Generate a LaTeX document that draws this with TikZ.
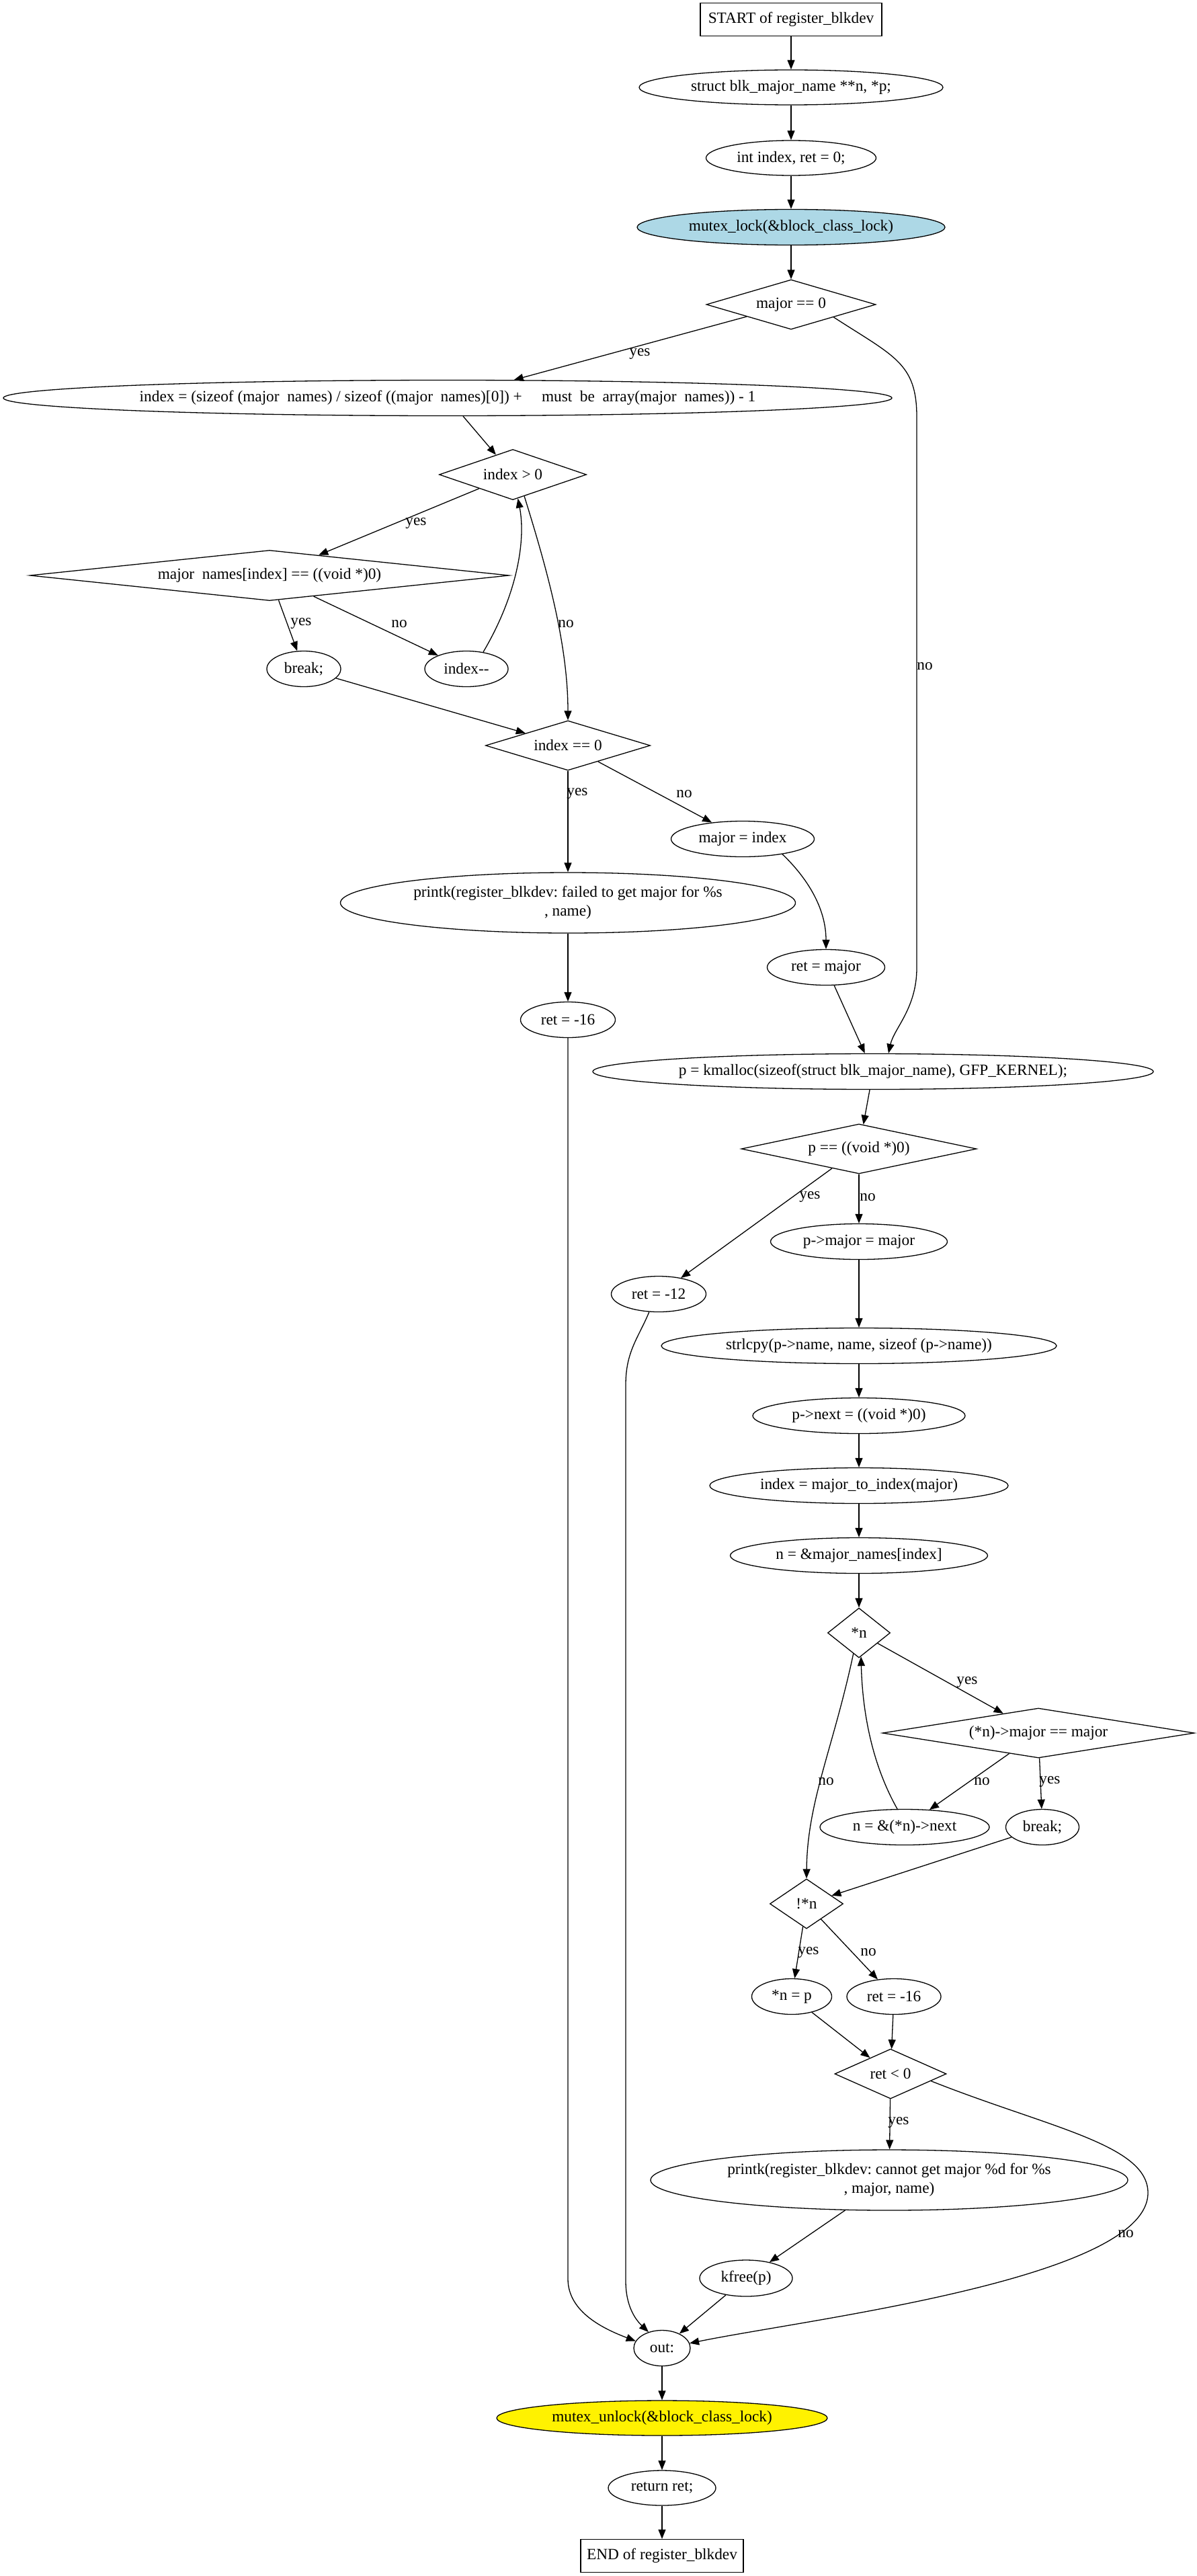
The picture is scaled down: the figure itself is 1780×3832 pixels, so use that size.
\documentclass[tikz,border=0pt]{standalone}
\usepackage{fontspec}
\setmainfont{Liberation Serif}
\usetikzlibrary{shapes.geometric,arrows.meta}
\frenchspacing
\begin{document}
\begin{tikzpicture}[x=1pt,y=-1pt,
  every node/.style={font=\fontsize{23.3}{28}\selectfont},
  base/.style={draw,line width=1.3pt,inner sep=0pt,align=center},
  ell/.style={base,ellipse},
  box/.style={base,rectangle},
  dia/.style={base,diamond},
  ws/.style 2 args={minimum width=#1pt,minimum height=#2pt},
  ds/.style n args={3}{minimum width=#1pt,minimum height=#2pt,shape aspect=#3},
  arr/.style={line width=1.3pt,-{Triangle[length=14pt,width=11pt]}},
  lab/.style={inner sep=0pt}
]
\fill[white] (0,0) rectangle (1780,3832);
\useasboundingbox (0,0) rectangle (1780,3832);

% nodes
\node[box,ws={270}{49}] (nstart) at (1177,29) {START of register\_blkdev};
\node[ell,ws={452}{52}] (struct) at (1177,130) {struct blk\_major\_name **n, *p;};
\node[ell,ws={253}{52}] (int) at (1177,235) {int index, ret = 0;};
\node[ell,ws={458}{53},fill={rgb,255:red,173;green,216;blue,230}] (ml) at (1177,338) {mutex\_lock(\&block\_class\_lock)};
\node[dia,ds={252}{74}{3.4}] (mz) at (1177,453) {major == 0};
\node[ell,ws={1322}{53}] (ie) at (666,592) {index = (sizeof (major\phantom{\_}names) / sizeof ((major\phantom{\_}names)[0]) + \phantom{\_\_}must\phantom{\_}be\phantom{\_}array(major\phantom{\_}names)) - 1};
\node[dia,ds={219}{75}{2.92}] (ig) at (763,706) {index > 0};
\node[dia,ds={713}{75}{9.5}] (mn) at (401,856) {major\phantom{\_}names[index] == ((void *)0)};
\node[ell,ws={110}{53}] (br1) at (452,995) {break;};
\node[ell,ws={124}{53}] (idec) at (694,995) {index-{}-};
\node[dia,ds={245}{74}{3.31}] (iz) at (845,1109) {index == 0};
\node[ell,ws={213}{53}] (mi) at (1105,1248) {major = index};
\node[ell,ws={677}{90}] (pf) at (845,1343) {printk(register\_blkdev: failed to get major for \%s\\, name)};
\node[ell,ws={175}{53}] (rm) at (1229,1439) {ret = major};
\node[ell,ws={141}{53}] (r16) at (845,1517) {ret = -16};
\node[ell,ws={834}{53}] (km) at (1299,1594) {p = kmalloc(sizeof(struct blk\_major\_name), GFP\_KERNEL);};
\node[dia,ds={350}{74}{4.73}] (pn) at (1278,1709) {p == ((void *)0)};
\node[ell,ws={263}{53}] (pm) at (1278,1847) {p->major = major};
\node[ell,ws={141}{53}] (r12) at (980,1925) {ret = -12};
\node[ell,ws={588}{53}] (sl) at (1278,2002) {strlcpy(p->name, name, sizeof (p->name))};
\node[ell,ws={316}{53}] (pnx) at (1278,2106) {p->next = ((void *)0)};
\node[ell,ws={444}{53}] (im) at (1278,2210) {index = major\_to\_index(major)};
\node[ell,ws={383}{53}] (na) at (1278,2314) {n = \&major\_names[index]};
\node[dia,ds={93}{74}{1.26}] (sn) at (1278,2429) {*n};
\node[dia,ds={464}{74}{6.27}] (nm) at (1545,2578) {(*n)->major == major};
\node[ell,ws={252}{53}] (nn) at (1346,2718) {n = \&(*n)->next};
\node[ell,ws={109}{53}] (br2) at (1551,2718) {break;};
\node[dia,ds={109}{74}{1.47}] (nsn) at (1200,2832) {!*n};
\node[ell,ws={119}{53}] (np) at (1178,2970) {*n = p};
\node[ell,ws={140}{53}] (r16b) at (1330,2970) {ret = -16};
\node[dia,ds={166}{74}{2.24}] (rl) at (1325,3085) {ret < 0};
\node[ell,ws={710}{90}] (pc) at (1323,3243) {printk(register\_blkdev: cannot get major \%d for \%s\\, major, name)};
\node[ell,ws={138}{54}] (kf) at (1110,3389) {kfree(p)};
\node[ell,ws={84}{53}] (out) at (985,3493) {out:};
\node[ell,ws={492}{52},fill=yellow] (mu) at (985,3597) {mutex\_unlock(\&block\_class\_lock)};
\node[ell,ws={160}{52}] (rr) at (985,3701) {return ret;};
\node[box,ws={242}{49}] (nend) at (985,3802) {END of register\_blkdev};

% edges
\draw[arr] (nstart) -- (struct);
\draw[arr] (struct) -- (int);
\draw[arr] (int) -- (ml);
\draw[arr] (ml) -- (mz);
\draw[arr] (mz) -- (ie);
\node[lab] at (952,527) {yes};
\draw[arr] (mz.south east) .. controls (1330,530) and (1364,540) .. (1364,620) -- (1364,1440) .. controls (1364,1500) and (1330,1530) .. ([xshift=23pt]km.north);
\node[lab] at (1376,991) {no};
\draw[arr] ([xshift=23pt]ie.south) -- (ig);
\draw[arr] (ig) -- (mn);
\node[lab] at (619,779) {yes};
\draw[arr] (mn) -- (br1);
\node[lab] at (448,928) {yes};
\draw[arr] (mn) -- (idec);
\node[lab] at (594,928) {no};
\draw[arr] (idec.45) .. controls (772,880) and (782,800) .. (ig.-78);
\draw[arr] (ig.-62) .. controls (815,850) and (845,960) .. (iz.north);
\node[lab] at (842,928) {no};
\draw[arr] (br1) -- (iz);
\draw[arr] (iz) -- (pf);
\node[lab] at (859,1181) {yes};
\draw[arr] (iz) -- (mi);
\node[lab] at (1018,1181) {no};
\draw[arr] (mi.-21) .. controls (1200,1305) and (1229,1350) .. (rm.north);
\draw[arr] (rm) -- (km);
\draw[arr] (pf) -- (r16);
\draw[arr] (r16.south) -- (845,3390) .. controls (845,3440) and (900,3465) .. (out.165);
\draw[arr] (km) -- (pn);
\draw[arr] (pn) -- (r12);
\node[lab] at (1205,1781) {yes};
\draw[arr] (pn) -- (pm);
\node[lab] at (1291,1781) {no};
\draw[arr] (pm) -- (sl);
\draw[arr] (sl) -- (pnx);
\draw[arr] (pnx) -- (im);
\draw[arr] (im) -- (na);
\draw[arr] (na) -- (sn);
\draw[arr] (r12.-118) .. controls (950,1990) and (931,2010) .. (931,2060) -- (931,3393) .. controls (931,3430) and (945,3450) .. (out.130);
\draw[arr] (sn) -- (nm);
\node[lab] at (1439,2502) {yes};
\draw[arr] (sn.-105) .. controls (1240,2600) and (1201,2680) .. (nsn.north);
\node[lab] at (1229,2650) {no};
\draw[arr] (nn.112) .. controls (1295,2620) and (1283,2540) .. (sn.-85);
\draw[arr] (nm) -- (nn);
\node[lab] at (1461,2650) {no};
\draw[arr] (nm) -- (br2);
\node[lab] at (1562,2650) {yes};
\draw[arr] (br2) -- (nsn);
\draw[arr] (nsn) -- (np);
\node[lab] at (1203,2904) {yes};
\draw[arr] (nsn) -- (r16b);
\node[lab] at (1292,2904) {no};
\draw[arr] (np) -- (rl);
\draw[arr] (r16b) -- (rl);
\draw[arr] (rl) -- (pc);
\node[lab] at (1337,3157) {yes};
\draw[arr] (rl.-10) .. controls (1560,3165) and (1708,3190) .. (1708,3262) .. controls (1708,3390) and (1200,3450) .. (out.10);
\node[lab] at (1675,3323) {no};
\draw[arr] (pc) -- (kf);
\draw[arr] (kf) -- (out);
\draw[arr] (out) -- (mu);
\draw[arr] (mu) -- (rr);
\draw[arr] (rr) -- (nend);
\end{tikzpicture}
\end{document}
